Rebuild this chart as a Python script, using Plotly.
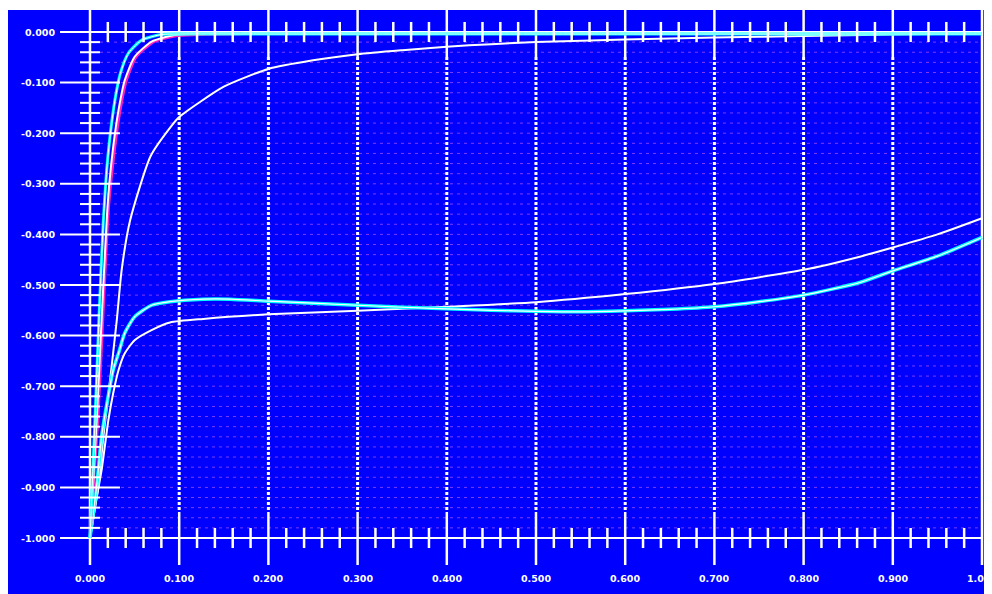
import plotly.graph_objects as go

# ---------------- data ----------------
# fast-rising curves
f1_x = [0.0, 0.0056, 0.010, 0.015, 0.0187, 0.0224, 0.028, 0.034, 0.043, 0.058, 0.080, 0.10, 0.20, 0.40, 0.60, 0.80, 1.0]
f1_y = [-1.0, -0.767, -0.569, -0.372, -0.273, -0.207, -0.134, -0.082, -0.042, -0.016, -0.005, -0.004, -0.004, -0.004, -0.004, -0.004, -0.004]

f2_x = [0.0, 0.0075, 0.013, 0.0187, 0.0213, 0.026, 0.032, 0.039, 0.050, 0.069, 0.095, 0.12, 0.20, 0.40, 0.60, 0.80, 1.0]
f2_y = [-1.0, -0.767, -0.569, -0.372, -0.306, -0.227, -0.154, -0.095, -0.049, -0.019, -0.006, -0.004, -0.003, -0.003, -0.003, -0.003, -0.003]

f3_x = [0.0, 0.009, 0.0145, 0.020, 0.023, 0.028, 0.034, 0.041, 0.052, 0.072, 0.10, 0.13, 0.17]
f3_y = [-1.0, -0.767, -0.569, -0.372, -0.306, -0.227, -0.154, -0.095, -0.049, -0.019, -0.007, -0.005, -0.004]

# slow white curve
s_x = [0.0, 0.0093, 0.015, 0.0217, 0.030, 0.0355, 0.045, 0.068, 0.0916, 0.10, 0.15, 0.20, 0.25, 0.30, 0.35, 0.40, 0.45, 0.50, 0.60, 0.70, 0.80, 0.90, 1.0]
s_y = [-1.0, -0.898, -0.80, -0.70, -0.57, -0.47, -0.372, -0.245, -0.185, -0.168, -0.108, -0.073, -0.056, -0.044, -0.036, -0.029, -0.024, -0.020, -0.015, -0.011, -0.008, -0.005, -0.003]

# middle cyan curve
c_x = [0.0, 0.0075, 0.013, 0.019, 0.026, 0.032, 0.039, 0.050, 0.069, 0.0897, 0.127, 0.157, 0.20, 0.25, 0.30, 0.351, 0.40, 0.45, 0.50, 0.55, 0.60, 0.65, 0.70, 0.75, 0.80, 0.863, 0.90, 0.95, 1.0]
c_y = [-1.0, -0.897, -0.80, -0.734, -0.668, -0.635, -0.595, -0.563, -0.540, -0.533, -0.528, -0.528, -0.532, -0.536, -0.540, -0.544, -0.547, -0.550, -0.552, -0.553, -0.551, -0.548, -0.543, -0.533, -0.520, -0.495, -0.472, -0.443, -0.406]

# middle white curve
w_x = [0.0, 0.0065, 0.013, 0.0206, 0.026, 0.032, 0.039, 0.050, 0.069, 0.0897, 0.127, 0.20, 0.30, 0.40, 0.50, 0.60, 0.70, 0.80, 0.863, 0.90, 0.95, 1.0]
w_y = [-1.0, -0.93, -0.866, -0.767, -0.714, -0.668, -0.635, -0.609, -0.589, -0.574, -0.567, -0.558, -0.551, -0.543, -0.534, -0.518, -0.498, -0.470, -0.444, -0.426, -0.400, -0.368]

# axis ticks / labels
x_ticks = [0.0, 0.1, 0.2, 0.3, 0.4, 0.5, 0.6, 0.7, 0.8, 0.9, 1.0]
x_tick_labels = ["0.000", "0.100", "0.200", "0.300", "0.400", "0.500",
                 "0.600", "0.700", "0.800", "0.900", "1.000"]
y_ticks = [0.0, -0.1, -0.2, -0.3, -0.4, -0.5, -0.6, -0.7, -0.8, -0.9, -1.0]
y_tick_labels = ["0.000", "-0.100", "-0.200", "-0.300", "-0.400", "-0.500",
                 "-0.600", "-0.700", "-0.800", "-0.900", "-1.000"]
minor_step = 0.02

# ---------------- styling ----------------
BLUE = "#0000FF"
WHITE = "#FFFFFF"
CYAN = "#00FFFF"
MAGENTA = "#FF20C0"
GRID = "rgba(225,110,255,0.55)"

# the page body adds an 8px offset on the left and top
W, H = 984, 586
ML, MR, MT, MB = 0, 7, 2, 0
X_RANGE = [-0.09193, 1.00336]
Y_RANGE = [-1.11067, 0.04348]

minor_x = [i * minor_step for i in range(1, 50) if i % 5 != 0]
minor_y = [-i * minor_step for i in range(1, 50) if i % 5 != 0]
grid_y = [-i * minor_step for i in range(1, 50)]


def segs(pairs):
    xs, ys = [], []
    for (x0, y0, x1, y1) in pairs:
        xs += [x0, x1, None]
        ys += [y0, y1, None]
    return xs, ys


fig = go.Figure()


def add_lines(pairs, color, width, dash="solid"):
    xs, ys = segs(pairs)
    fig.add_trace(go.Scatter(x=xs, y=ys, mode="lines", hoverinfo="skip",
                             line=dict(color=color, width=width, dash=dash),
                             showlegend=False))


# dashed horizontal grid
add_lines([(0.0112, y, 1.0, y) for y in grid_y], GRID, 1, "3px,4px")

# vertical major lines (inner ones dotted in the middle)
inner = x_ticks[1:-1]
add_lines([(x, Y_RANGE[1], x, -0.0494) for x in inner] +
          [(x, -0.9486, x, -1.0534) for x in inner], WHITE, 2.5)
add_lines([(x, -0.0494, x, -0.9486) for x in inner], WHITE, 3, "3px,2px")
add_lines([(x, Y_RANGE[1], x, -1.0534) for x in (x_ticks[0], x_ticks[-1])], WHITE, 2.5)

# horizontal axis lines at 0 and -1
add_lines([(-0.0336, y, 1.0, y) for y in (y_ticks[0], y_ticks[-1])], WHITE, 2)


def curve(x, y, color, width):
    fig.add_trace(go.Scatter(x=x, y=y, mode="lines", hoverinfo="skip",
                             line=dict(color=color, width=width, shape="spline", smoothing=0.6),
                             showlegend=False))


curve(s_x, s_y, WHITE, 2)
curve(w_x, w_y, WHITE, 2)
curve(c_x, c_y, CYAN, 3.5)
curve(c_x, c_y, WHITE, 1.2)
curve(f3_x, f3_y, MAGENTA, 2.5)
curve(f2_x, f2_y, WHITE, 2)
curve(f1_x, f1_y, CYAN, 3)
curve(f1_x, f1_y, WHITE, 1)

# ticks
add_lines([(x, 0.0198, x, -0.0198) for x in minor_x] +
          [(x, -0.9802, x, -1.0198) for x in minor_x], WHITE, 2.5)
add_lines([(-0.0112, y, 0.0112, y) for y in minor_y], WHITE, 2)
add_lines([(-0.0336, y, 0.0336, y) for y in y_ticks[1:-1]], WHITE, 2)

LABEL_FONT = dict(family="DejaVu Sans", size=9.5, color=WHITE, weight="bold")
annotations = []
for yv, lab in zip(y_ticks, y_tick_labels):
    annotations.append(dict(x=-0.037, y=yv, text=lab, showarrow=False,
                            xanchor="right", yanchor="middle", font=LABEL_FONT))
for xv, lab in zip(x_ticks, x_tick_labels):
    annotations.append(dict(x=xv, y=-1.081, text=lab, showarrow=False,
                            xanchor="center", yanchor="middle", font=LABEL_FONT))

fig.update_layout(
    width=W, height=H,
    margin=dict(l=ML, r=MR, t=MT, b=MB, pad=0),
    paper_bgcolor=WHITE,
    plot_bgcolor=BLUE,
    showlegend=False,
    annotations=annotations,
    shapes=[dict(type="rect", xref="paper", yref="paper", x0=1.0, x1=1.0 + MR / (W - ML - MR),
                 y0=0, y1=0.05, fillcolor=BLUE, line=dict(width=0), layer="below")],
    xaxis=dict(range=X_RANGE, visible=False, fixedrange=True),
    yaxis=dict(range=Y_RANGE, visible=False, fixedrange=True),
)

fig.write_html("out.html")
